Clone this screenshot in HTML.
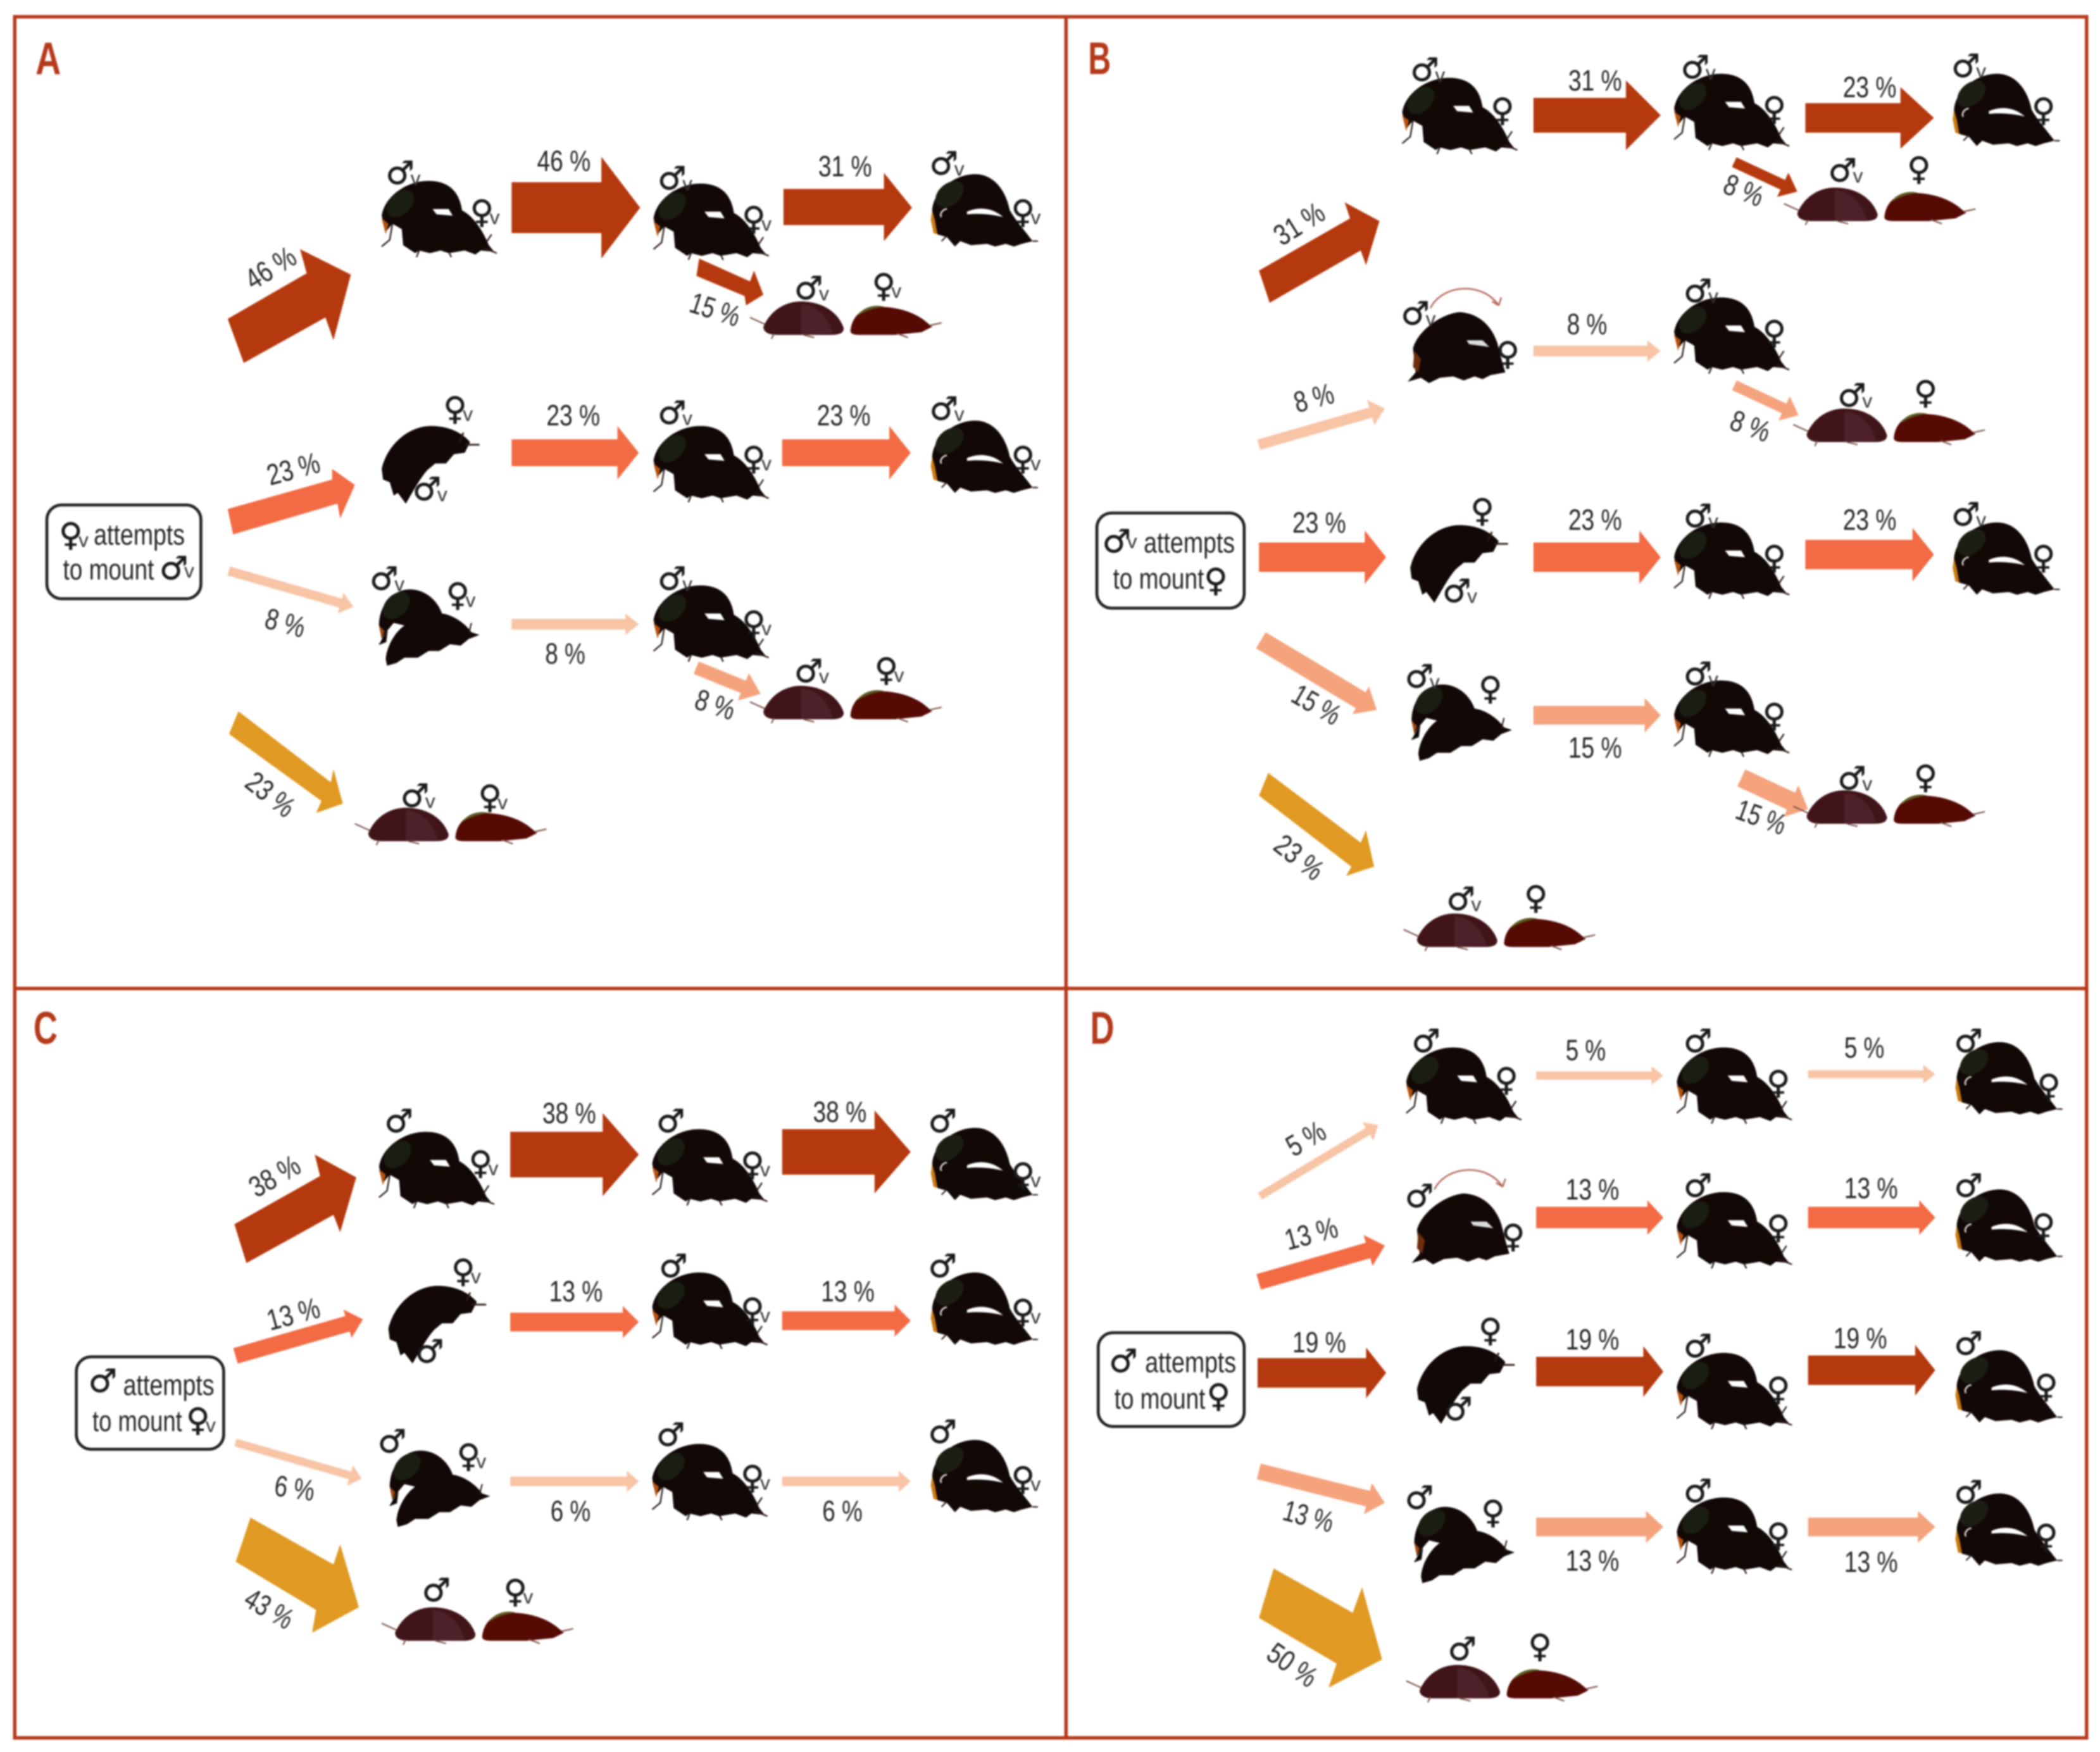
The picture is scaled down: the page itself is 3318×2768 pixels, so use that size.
<!DOCTYPE html>
<html><head><meta charset="utf-8"><style>
html,body{margin:0;padding:0;background:#fff}
svg{display:block;filter:blur(1.3px)}
text{font-family:"Liberation Sans","DejaVu Sans",sans-serif;fill:#262626;dominant-baseline:central}
.p{font-size:22px;text-anchor:middle}
.t{font-size:22px}
.s{font-family:"DejaVu Sans",sans-serif;font-size:24px;fill:#1a1a1a;stroke:#1a1a1a;stroke-width:.3;letter-spacing:-3px}
.v{font-family:"Liberation Sans",sans-serif;font-size:15px;stroke:none;fill:#333}
.L{font-size:34px;font-weight:bold;fill:#B5391A;text-anchor:middle}
.a{fill:#B5390F}.m{fill:#F26B44}.l{fill:#F8C4A6}.k{fill:#F4A37D}.g{fill:#E09A24}
</style></head><body>
<svg xmlns="http://www.w3.org/2000/svg" width="3318" height="2768" viewBox="0 0 1568 1308">
<defs>
<g id="M"><path fill="#120806" d="M0,26 C2,12 18,0 35,0 C50,0 58,8 60,22 C68,26 75,36 80,48 L84,53 L74,52 L70,55 L62,52 L50,54 L44,52 L36,54 L28,52 L25,54 L16,48 L15,36 L8,32 L3,38 Z"/><ellipse cx="14" cy="17" rx="12" ry="8" transform="rotate(-45 14 17)" fill="#1a1d12"/><path fill="#B5520F" d="M0,28 L5,32 L3,40 Z"/><path d="M8,32 L6,44 L0,49 M78,46 L82,40 M76,50 L86,54 M28,52 L26,57 M50,53 L52,57" stroke="#2a1a15" stroke-width="1.1" fill="none"/><path fill="#fff" d="M38,21 L50,21 L53,26 L41,25 Z"/></g>
<g id="E"><path fill="#120806" d="M1,27 C2,12 18,0 33,0 C47,0 56,12 59,27 C63,34 70,42 76,50 L68,52 L62,54 L56,52 L48,54 L42,52 L30,53 L22,50 L18,54 L12,47 L5,45 Z"/><ellipse cx="14" cy="15" rx="12" ry="8" transform="rotate(-40 14 15)" fill="#1c1d13"/><path fill="#C97A10" d="M1,27 L0,34 L2,44 L5,45 L3,34 Z"/><path fill="#fff" d="M27,28 C36,24 46,25 54,32 C46,30 36,29 27,30 Z"/><path d="M8,32 C6,30 9,26 12,26" stroke="#ddd" stroke-width="1.2" fill="none"/><path d="M76,50 L80,50 M12,46 L8,50" stroke="#2a1a15" stroke-width="1"/></g>
<g id="B"><path fill="#120806" d="M8,28 C12,14 30,2 43,1 C58,2 67,12 71,24 C73,32 75,40 77,46 L66,48 L60,51 L54,49 L46,52 L38,49 L28,50 L20,54 L14,50 L4,53 L10,46 Z"/><path fill="#6e2e0e" d="M9,30 L14,36 L12,46 L8,42 Z"/><path fill="#ddd" d="M48,22 L60,22 L65,27 L50,25 Z"/><path d="M21,-2 C30,-20 60,-22 72,-4 M72,-4 L67,-7 M72,-4 L74,-10" stroke="#B5675A" stroke-width="1.2" fill="none"/></g>
<g id="C"><path fill="#120806" d="M0,32 C4,14 20,0 37,0 C50,0 60,5 66,12 L62,20 L54,21 L48,28 L40,28 L34,33 C28,40 24,48 18,58 L12,50 L9,52 L6,42 L1,40 Z"/><path d="M61,5 L58,12 M62,14 L73,14" stroke="#2a1a15" stroke-width="1.3"/></g>
<g id="S"><path fill="#120806" d="M1,30 C1,14 12,3 24,3 C36,3 45,12 48,21 C56,22 65,28 70,35 L76,37 L68,40 L62,45 L54,44 L46,49 L38,49 L30,54 L20,54 L14,58 L7,60 L6,55 C7,44 14,34 20,30 L12,28 L7,34 L3,40 Z"/><ellipse cx="14" cy="15" rx="12" ry="8" transform="rotate(-45 14 15)" fill="#191d12"/><path fill="#A0480F" d="M1,30 L5,34 L3,40 Z"/><path d="M7,34 L6,42 L1,44 M70,28 L68,36" stroke="#2a1a15" stroke-width="1"/></g>
<g id="P"><path fill="#401418" d="M0,19 C5,7 16,0 28,0 C44,0 56,8 60,20 C60,24 56,25 50,25 L10,25 C4,25 0,23 0,19 Z"/><path fill="#5A2A38" d="M28,2 C38,2 48,10 52,24 L28,25 Z" opacity=".55"/><path fill="#560A04" d="M65,22 C66,10 76,3 86,4 C100,4 112,8 120,14 L126,19 L118,23 L98,25 L72,25 C67,25 65,24 65,22 Z"/><path fill="#5C5A22" d="M70,11 C74,4 84,2 90,4 C82,5 76,7 70,11 Z"/><path d="M-10,12 L1,17 M124,18 L133,16 M8,24 L6,28 M30,25 L38,27 M100,24 L108,27" stroke="#7a5048" stroke-width="1" fill="none"/></g>
</defs>
<rect width="1568" height="1308" fill="#fff"/>
<g fill="none" stroke="#B5391A" stroke-width="2.6"><rect x="11" y="12.5" width="1547" height="1285"/><path d="M796,12 V1298 M11,738 H1558"/></g>
<text class="L" x="36" y="44" textLength="19" lengthAdjust="spacingAndGlyphs">A</text><text class="L" x="821" y="44" textLength="17" lengthAdjust="spacingAndGlyphs">B</text><text class="L" x="34" y="768" textLength="18" lengthAdjust="spacingAndGlyphs">C</text><text class="L" x="823" y="768" textLength="18" lengthAdjust="spacingAndGlyphs">D</text>

<!-- arrows A -->
<polygon class="a" points="170,238 229,204 224,186 262,205 249,254 243,237 182,271"/>
<polygon class="a" points="382,136 449,136 449,117 478,155 449,193 449,174 382,174"/>
<polygon class="a" points="585,141 660,141 660,129 681,155 660,180 660,168 585,168"/>
<polygon class="a" points="522,193 560,210 563,202 570,220 557,228 556,221 520,206"/>
<polygon class="m" points="170,380 248,358 248,350 265,362 254,387 252,376 174,399"/>
<polygon class="m" transform="translate(477,338)" points="0,0 -16,-20 -16,-10 -95,-10 -95,10 -16,10 -16,20"/>
<polygon class="m" transform="translate(680,338)" points="0,0 -16,-20 -16,-10 -96,-10 -96,10 -16,10 -16,20"/>
<polygon class="l" transform="translate(264,453) rotate(16)" points="0,0 -10,-8 -10,-3.5 -97,-3.5 -97,3.5 -10,3.5 -10,8"/>
<polygon class="l" transform="translate(477,466)" points="0,0 -10,-8 -10,-4 -95,-4 -95,4 -10,4 -10,8"/>
<polygon class="k" transform="translate(568,518) rotate(22)" points="0,0 -14,-11 -14,-5 -52,-5 -52,5 -14,5 -14,11"/>
<polygon class="g" points="178,531 247,584 249,574 256,600 236,607 240,598 171,548"/>
<!-- arrows B -->
<polygon class="a" points="940,202 1008,163 1004,151 1030,165 1020,198 1016,187 948,226"/>
<polygon class="a" transform="translate(1240,86)" points="0,0 -26,-26 -26,-13 -95,-13 -95,13 -26,13 -26,26"/>
<polygon class="a" transform="translate(1444,88)" points="0,0 -25,-23 -25,-11 -96,-11 -96,11 -25,11 -25,23"/>
<polygon class="a" transform="translate(1342,143) rotate(25)" points="0,0 -12,-10 -12,-4 -52,-4 -52,4 -12,4 -12,10"/>
<polygon class="l" transform="translate(1034,305) rotate(-16)" points="0,0 -11,-10 -11,-4 -98,-4 -98,4 -11,4 -11,10"/>
<polygon class="l" transform="translate(1240,262)" points="0,0 -10,-8 -10,-4 -95,-4 -95,4 -10,4 -10,8"/>
<polygon class="k" transform="translate(1343,310) rotate(25)" points="0,0 -12,-10 -12,-4 -53,-4 -53,4 -12,4 -12,10"/>
<polygon class="m" transform="translate(1035,416)" points="0,0 -16,-20 -16,-11 -95,-11 -95,11 -16,11 -16,20"/>
<polygon class="m" transform="translate(1240,416)" points="0,0 -16,-20 -16,-11 -95,-11 -95,11 -16,11 -16,20"/>
<polygon class="m" transform="translate(1444,414)" points="0,0 -16,-20 -16,-11 -96,-11 -96,11 -16,11 -16,20"/>
<polygon class="k" transform="translate(1028,530) rotate(31)" points="0,0 -14,-12 -14,-7 -101,-7 -101,7 -14,7 -14,12"/>
<polygon class="k" transform="translate(1240,534)" points="0,0 -12,-13 -12,-7 -95,-7 -95,7 -12,7 -12,13"/>
<polygon class="k" transform="translate(1350,604) rotate(25)" points="0,0 -14,-13 -14,-7 -55,-7 -55,7 -14,7 -14,13"/>
<polygon class="g" points="947,577 1016,629 1020,620 1026,647 1005,654 1009,647 940,594"/>
<!-- arrows C -->
<polygon class="a" points="175,914 239,878 235,862 266,879 254,920 249,907 184,943"/>
<polygon class="a" transform="translate(477,862)" points="0,0 -27,-31 -27,-17 -96,-17 -96,17 -27,17 -27,31"/>
<polygon class="a" transform="translate(680,860)" points="0,0 -27,-31 -27,-17 -96,-17 -96,17 -27,17 -27,31"/>
<polygon class="m" transform="translate(271,985) rotate(-16)" points="0,0 -12,-11 -12,-6 -99,-6 -99,6 -12,6 -12,11"/>
<polygon class="m" transform="translate(477,987)" points="0,0 -12,-12 -12,-7 -96,-7 -96,7 -12,7 -12,12"/>
<polygon class="m" transform="translate(680,986)" points="0,0 -12,-12 -12,-7 -96,-7 -96,7 -12,7 -12,12"/>
<polygon class="l" transform="translate(270,1104) rotate(16)" points="0,0 -9,-8 -9,-3 -98,-3 -98,3 -9,3 -9,8"/>
<polygon class="l" transform="translate(477,1106)" points="0,0 -9,-8 -9,-3.5 -96,-3.5 -96,3.5 -9,3.5 -9,8"/>
<polygon class="l" transform="translate(680,1106)" points="0,0 -9,-8 -9,-3.5 -96,-3.5 -96,3.5 -9,3.5 -9,8"/>
<polygon class="g" points="187,1133 249,1168 254,1153 268,1200 233,1219 236,1202 176,1166"/>
<!-- arrows D -->
<polygon class="l" transform="translate(1029,840) rotate(-31)" points="0,0 -9,-8 -9,-3 -103,-3 -103,3 -9,3 -9,8"/>
<polygon class="l" transform="translate(1242,803)" points="0,0 -9,-7 -9,-3 -95,-3 -95,3 -9,3 -9,7"/>
<polygon class="l" transform="translate(1445,802)" points="0,0 -9,-7 -9,-3 -95,-3 -95,3 -9,3 -9,7"/>
<polygon class="m" transform="translate(1034,930) rotate(-16)" points="0,0 -13,-12 -13,-6 -98,-6 -98,6 -13,6 -13,12"/>
<polygon class="m" transform="translate(1242,909)" points="0,0 -12,-13 -12,-8 -95,-8 -95,8 -12,8 -12,13"/>
<polygon class="m" transform="translate(1445,909)" points="0,0 -12,-13 -12,-8 -95,-8 -95,8 -12,8 -12,13"/>
<polygon class="a" transform="translate(1035,1025)" points="0,0 -15,-19 -15,-11 -96,-11 -96,11 -15,11 -15,19"/>
<polygon class="a" transform="translate(1242,1024)" points="0,0 -15,-19 -15,-11 -95,-11 -95,11 -15,11 -15,19"/>
<polygon class="a" transform="translate(1445,1023)" points="0,0 -15,-19 -15,-11 -95,-11 -95,11 -15,11 -15,19"/>
<polygon class="k" transform="translate(1034,1122) rotate(14)" points="0,0 -13,-12 -13,-6 -97,-6 -97,6 -13,6 -13,12"/>
<polygon class="k" transform="translate(1242,1140)" points="0,0 -13,-12 -13,-7 -95,-7 -95,7 -13,7 -13,12"/>
<polygon class="k" transform="translate(1445,1140)" points="0,0 -13,-12 -13,-7 -95,-7 -95,7 -13,7 -13,12"/>
<polygon class="g" points="951,1171 1010,1204 1017,1185 1032,1239 992,1260 998,1242 940,1208"/>

<!-- beetles -->
<use href="#M" x="285" y="135"/><use href="#M" x="488" y="137"/><use href="#E" x="695" y="130"/><use href="#P" x="570" y="225"/>
<use href="#C" x="285" y="318"/><use href="#M" x="488" y="318"/><use href="#E" x="695" y="314"/>
<use href="#S" x="282" y="437"/><use href="#M" x="488" y="437"/><use href="#P" x="570" y="512"/><use href="#P" x="275" y="603"/>
<use href="#M" x="1047" y="58"/><use href="#M" x="1250" y="55"/><use href="#E" x="1458" y="55"/><use href="#P" x="1342" y="140"/>
<use href="#B" x="1047" y="232"/><use href="#M" x="1250" y="222"/><use href="#P" x="1349" y="305"/>
<use href="#C" x="1053" y="392"/><use href="#M" x="1250" y="390"/><use href="#E" x="1458" y="390"/>
<use href="#S" x="1053" y="508"/><use href="#M" x="1250" y="508"/><use href="#P" x="1349" y="590"/><use href="#P" x="1058" y="682"/>
<use href="#M" x="283" y="845"/><use href="#M" x="487" y="843"/><use href="#E" x="695" y="842"/>
<use href="#C" x="290" y="960"/><use href="#M" x="487" y="950"/><use href="#E" x="695" y="950"/>
<use href="#S" x="290" y="1080"/><use href="#M" x="487" y="1078"/><use href="#E" x="695" y="1075"/><use href="#P" x="295" y="1200"/>
<use href="#M" x="1050" y="782"/><use href="#M" x="1252" y="782"/><use href="#E" x="1460" y="778"/>
<use href="#B" x="1050" y="890"/><use href="#M" x="1252" y="890"/><use href="#E" x="1460" y="888"/>
<use href="#C" x="1058" y="1005"/><use href="#M" x="1252" y="1010"/><use href="#E" x="1460" y="1008"/>
<use href="#S" x="1055" y="1122"/><use href="#M" x="1252" y="1118"/><use href="#E" x="1460" y="1115"/><use href="#P" x="1060" y="1243"/>

<!-- percent labels A -->
<text class="p" textLength="40" lengthAdjust="spacingAndGlyphs" transform="translate(202,200) rotate(-32)">46 %</text>
<text class="p" textLength="40" lengthAdjust="spacingAndGlyphs" x="421" y="120">46 %</text>
<text class="p" textLength="40" lengthAdjust="spacingAndGlyphs" x="631" y="124">31 %</text>
<text class="p" textLength="38" lengthAdjust="spacingAndGlyphs" transform="translate(534,231) rotate(18)">15 %</text>
<text class="p" textLength="40" lengthAdjust="spacingAndGlyphs" transform="translate(219,350) rotate(-15)">23 %</text>
<text class="p" textLength="40" lengthAdjust="spacingAndGlyphs" x="428" y="310">23 %</text>
<text class="p" textLength="40" lengthAdjust="spacingAndGlyphs" x="630" y="310">23 %</text>
<text class="p" textLength="30" lengthAdjust="spacingAndGlyphs" transform="translate(213,465) rotate(15)">8 %</text>
<text class="p" textLength="30" lengthAdjust="spacingAndGlyphs" x="422" y="488">8 %</text>
<text class="p" textLength="30" lengthAdjust="spacingAndGlyphs" transform="translate(534,526) rotate(18)">8 %</text>
<text class="p" textLength="40" lengthAdjust="spacingAndGlyphs" transform="translate(202,593) rotate(38)">23 %</text>
<!-- B -->
<text class="p" textLength="40" lengthAdjust="spacingAndGlyphs" transform="translate(970,167) rotate(-32)">31 %</text>
<text class="p" textLength="40" lengthAdjust="spacingAndGlyphs" x="1191" y="60">31 %</text>
<text class="p" textLength="40" lengthAdjust="spacingAndGlyphs" x="1396" y="65">23 %</text>
<text class="p" textLength="30" lengthAdjust="spacingAndGlyphs" transform="translate(1302,142) rotate(22)">8 %</text>
<text class="p" textLength="30" lengthAdjust="spacingAndGlyphs" transform="translate(981,297) rotate(-15)">8 %</text>
<text class="p" textLength="30" lengthAdjust="spacingAndGlyphs" x="1185" y="242">8 %</text>
<text class="p" textLength="30" lengthAdjust="spacingAndGlyphs" transform="translate(1307,318) rotate(20)">8 %</text>
<text class="p" textLength="40" lengthAdjust="spacingAndGlyphs" x="985" y="390">23 %</text>
<text class="p" textLength="40" lengthAdjust="spacingAndGlyphs" x="1191" y="388">23 %</text>
<text class="p" textLength="40" lengthAdjust="spacingAndGlyphs" x="1396" y="388">23 %</text>
<text class="p" textLength="38" lengthAdjust="spacingAndGlyphs" transform="translate(983,526) rotate(30)">15 %</text>
<text class="p" textLength="40" lengthAdjust="spacingAndGlyphs" x="1191" y="558">15 %</text>
<text class="p" textLength="38" lengthAdjust="spacingAndGlyphs" transform="translate(1315,610) rotate(20)">15 %</text>
<text class="p" textLength="40" lengthAdjust="spacingAndGlyphs" transform="translate(970,640) rotate(38)">23 %</text>
<!-- C -->
<text class="p" textLength="40" lengthAdjust="spacingAndGlyphs" transform="translate(205,878) rotate(-30)">38 %</text>
<text class="p" textLength="40" lengthAdjust="spacingAndGlyphs" x="425" y="831">38 %</text>
<text class="p" textLength="40" lengthAdjust="spacingAndGlyphs" x="627" y="830">38 %</text>
<text class="p" textLength="40" lengthAdjust="spacingAndGlyphs" transform="translate(219,981) rotate(-15)">13 %</text>
<text class="p" textLength="40" lengthAdjust="spacingAndGlyphs" x="430" y="964">13 %</text>
<text class="p" textLength="40" lengthAdjust="spacingAndGlyphs" x="633" y="964">13 %</text>
<text class="p" textLength="30" lengthAdjust="spacingAndGlyphs" transform="translate(220,1111) rotate(8)">6 %</text>
<text class="p" textLength="30" lengthAdjust="spacingAndGlyphs" x="426" y="1128">6 %</text>
<text class="p" textLength="30" lengthAdjust="spacingAndGlyphs" x="629" y="1128">6 %</text>
<text class="p" textLength="38" lengthAdjust="spacingAndGlyphs" transform="translate(201,1201) rotate(30)">43 %</text>
<!-- D -->
<text class="p" textLength="30" lengthAdjust="spacingAndGlyphs" transform="translate(975,850) rotate(-30)">5 %</text>
<text class="p" textLength="30" lengthAdjust="spacingAndGlyphs" x="1184" y="784">5 %</text>
<text class="p" textLength="30" lengthAdjust="spacingAndGlyphs" x="1392" y="782">5 %</text>
<text class="p" textLength="40" lengthAdjust="spacingAndGlyphs" transform="translate(979,921) rotate(-15)">13 %</text>
<text class="p" textLength="40" lengthAdjust="spacingAndGlyphs" x="1189" y="888">13 %</text>
<text class="p" textLength="40" lengthAdjust="spacingAndGlyphs" x="1397" y="887">13 %</text>
<text class="p" textLength="40" lengthAdjust="spacingAndGlyphs" x="985" y="1002">19 %</text>
<text class="p" textLength="40" lengthAdjust="spacingAndGlyphs" x="1189" y="1000">19 %</text>
<text class="p" textLength="40" lengthAdjust="spacingAndGlyphs" x="1389" y="999">19 %</text>
<text class="p" textLength="38" lengthAdjust="spacingAndGlyphs" transform="translate(977,1132) rotate(15)">13 %</text>
<text class="p" textLength="40" lengthAdjust="spacingAndGlyphs" x="1189" y="1165">13 %</text>
<text class="p" textLength="40" lengthAdjust="spacingAndGlyphs" x="1397" y="1166">13 %</text>
<text class="p" textLength="40" lengthAdjust="spacingAndGlyphs" transform="translate(965,1243) rotate(35)">50 %</text>

<!-- boxes -->
<g fill="#fff" stroke="#222" stroke-width="2.2">
<rect x="35" y="377" width="115" height="70" rx="11"/>
<rect x="819" y="383" width="110" height="71" rx="11"/>
<rect x="57" y="1013" width="110" height="69" rx="11"/>
<rect x="820" y="995" width="109" height="70" rx="11"/>
</g>
<text class="s" x="44" y="399">♀<tspan class="v" dy="4">v</tspan></text><text class="t" x="70" y="399" textLength="68" lengthAdjust="spacingAndGlyphs">attempts</text>
<text class="t" x="47" y="425" textLength="68" lengthAdjust="spacingAndGlyphs">to mount</text><text class="s" x="119" y="424">♂<tspan class="v" dy="2">v</tspan></text>
<text class="s" x="823" y="404">♂<tspan class="v">v</tspan></text><text class="t" x="854" y="405" textLength="68" lengthAdjust="spacingAndGlyphs">attempts</text>
<text class="t" x="831" y="432" textLength="68" lengthAdjust="spacingAndGlyphs">to mount</text><text class="s" x="899" y="433">♀</text>
<text class="s" x="66" y="1031">♂</text><text class="t" x="92" y="1034" textLength="68" lengthAdjust="spacingAndGlyphs">attempts</text>
<text class="t" x="69" y="1061" textLength="67" lengthAdjust="spacingAndGlyphs">to mount</text><text class="s" x="139" y="1060">♀<tspan class="v" dy="4">v</tspan></text>
<text class="s" x="828" y="1016">♂</text><text class="t" x="855" y="1017" textLength="68" lengthAdjust="spacingAndGlyphs">attempts</text>
<text class="t" x="832" y="1044" textLength="68" lengthAdjust="spacingAndGlyphs">to mount</text><text class="s" x="901" y="1042">♀</text>

<!-- gender labels A -->
<text class="s" x="288" y="129">♂<tspan class="v" dy="4">v</tspan></text><text class="s" x="351" y="158">♀<tspan class="v" dy="4">v</tspan></text>
<text class="s" x="491" y="133">♂<tspan class="v" dy="4">v</tspan></text><text class="s" x="554" y="163">♀<tspan class="v" dy="4">v</tspan></text>
<text class="s" x="694" y="122">♂<tspan class="v" dy="4">v</tspan></text><text class="s" x="755" y="158">♀<tspan class="v" dy="4">v</tspan></text>
<text class="s" x="593" y="215">♂<tspan class="v" dy="4">v</tspan></text><text class="s" x="651" y="213">♀<tspan class="v" dy="4">v</tspan></text>
<text class="s" x="331" y="305">♀<tspan class="v" dy="4">v</tspan></text><text class="s" x="308" y="365">♂<tspan class="v" dy="4">v</tspan></text>
<text class="s" x="491" y="308">♂<tspan class="v" dy="4">v</tspan></text><text class="s" x="554" y="342">♀<tspan class="v" dy="4">v</tspan></text>
<text class="s" x="694" y="305">♂<tspan class="v" dy="4">v</tspan></text><text class="s" x="755" y="342">♀<tspan class="v" dy="4">v</tspan></text>
<text class="s" x="276" y="432">♂<tspan class="v" dy="4">v</tspan></text><text class="s" x="333" y="444">♀<tspan class="v" dy="4">v</tspan></text>
<text class="s" x="491" y="432">♂<tspan class="v" dy="4">v</tspan></text><text class="s" x="554" y="465">♀<tspan class="v" dy="4">v</tspan></text>
<text class="s" x="593" y="501">♂<tspan class="v" dy="4">v</tspan></text><text class="s" x="653" y="500">♀<tspan class="v" dy="4">v</tspan></text>
<text class="s" x="299" y="594">♂<tspan class="v" dy="4">v</tspan></text><text class="s" x="357" y="595">♀<tspan class="v" dy="4">v</tspan></text>
<!-- B -->
<text class="s" x="1053" y="52">♂<tspan class="v" dy="4">v</tspan></text><text class="s" x="1113" y="82">♀</text>
<text class="s" x="1255" y="50">♂<tspan class="v" dy="4">v</tspan></text><text class="s" x="1316" y="81">♀</text>
<text class="s" x="1457" y="49">♂<tspan class="v" dy="4">v</tspan></text><text class="s" x="1517" y="82">♀</text>
<text class="s" x="1365" y="127">♂<tspan class="v" dy="4">v</tspan></text><text class="s" x="1424" y="126">♀</text>
<text class="s" x="1046" y="234">♂<tspan class="v" dy="4">v</tspan></text><text class="s" x="1117" y="264">♀</text>
<text class="s" x="1257" y="217">♂<tspan class="v" dy="4">v</tspan></text><text class="s" x="1316" y="248">♀</text>
<text class="s" x="1372" y="295">♂<tspan class="v" dy="4">v</tspan></text><text class="s" x="1429" y="293">♀</text>
<text class="s" x="1098" y="381">♀</text><text class="s" x="1077" y="441">♂<tspan class="v" dy="4">v</tspan></text>
<text class="s" x="1257" y="385">♂<tspan class="v" dy="4">v</tspan></text><text class="s" x="1316" y="416">♀</text>
<text class="s" x="1457" y="384">♂<tspan class="v" dy="4">v</tspan></text><text class="s" x="1517" y="416">♀</text>
<text class="s" x="1049" y="505">♂<tspan class="v" dy="4">v</tspan></text><text class="s" x="1104" y="514">♀</text>
<text class="s" x="1257" y="503">♂<tspan class="v" dy="4">v</tspan></text><text class="s" x="1316" y="534">♀</text>
<text class="s" x="1372" y="581">♂<tspan class="v" dy="4">v</tspan></text><text class="s" x="1429" y="580">♀</text>
<text class="s" x="1080" y="671">♂<tspan class="v" dy="4">v</tspan></text><text class="s" x="1138" y="670">♀</text>
<!-- C -->
<text class="s" x="287" y="837">♂</text><text class="s" x="350" y="868">♀<tspan class="v" dy="4">v</tspan></text>
<text class="s" x="490" y="837">♂</text><text class="s" x="553" y="869">♀<tspan class="v" dy="4">v</tspan></text>
<text class="s" x="693" y="837">♂</text><text class="s" x="755" y="877">♀<tspan class="v" dy="4">v</tspan></text>
<text class="s" x="337" y="949">♀<tspan class="v" dy="4">v</tspan></text><text class="s" x="310" y="1009">♂</text>
<text class="s" x="492" y="945">♂</text><text class="s" x="553" y="978">♀<tspan class="v" dy="4">v</tspan></text>
<text class="s" x="693" y="945">♂</text><text class="s" x="755" y="979">♀<tspan class="v" dy="4">v</tspan></text>
<text class="s" x="282" y="1076">♂</text><text class="s" x="341" y="1087">♀<tspan class="v" dy="4">v</tspan></text>
<text class="s" x="490" y="1071">♂</text><text class="s" x="553" y="1103">♀<tspan class="v" dy="4">v</tspan></text>
<text class="s" x="693" y="1069">♂</text><text class="s" x="755" y="1104">♀<tspan class="v" dy="4">v</tspan></text>
<text class="s" x="315" y="1187">♂</text><text class="s" x="376" y="1188">♀<tspan class="v" dy="4">v</tspan></text>
<!-- D -->
<text class="s" x="1054" y="777">♂</text><text class="s" x="1116" y="806">♀</text>
<text class="s" x="1257" y="777">♂</text><text class="s" x="1319" y="808">♀</text>
<text class="s" x="1459" y="777">♂</text><text class="s" x="1521" y="811">♀</text>
<text class="s" x="1049" y="893">♂</text><text class="s" x="1121" y="923">♀</text>
<text class="s" x="1257" y="885">♂</text><text class="s" x="1319" y="916">♀</text>
<text class="s" x="1459" y="885">♂</text><text class="s" x="1517" y="915">♀</text>
<text class="s" x="1104" y="993">♀</text><text class="s" x="1078" y="1052">♂</text>
<text class="s" x="1257" y="1005">♂</text><text class="s" x="1319" y="1037">♀</text>
<text class="s" x="1459" y="1003">♂</text><text class="s" x="1519" y="1035">♀</text>
<text class="s" x="1049" y="1118">♂</text><text class="s" x="1106" y="1129">♀</text>
<text class="s" x="1257" y="1113">♂</text><text class="s" x="1319" y="1146">♀</text>
<text class="s" x="1459" y="1114">♂</text><text class="s" x="1519" y="1147">♀</text>
<text class="s" x="1081" y="1231">♂</text><text class="s" x="1141" y="1229">♀</text>
</svg>
</body></html>
